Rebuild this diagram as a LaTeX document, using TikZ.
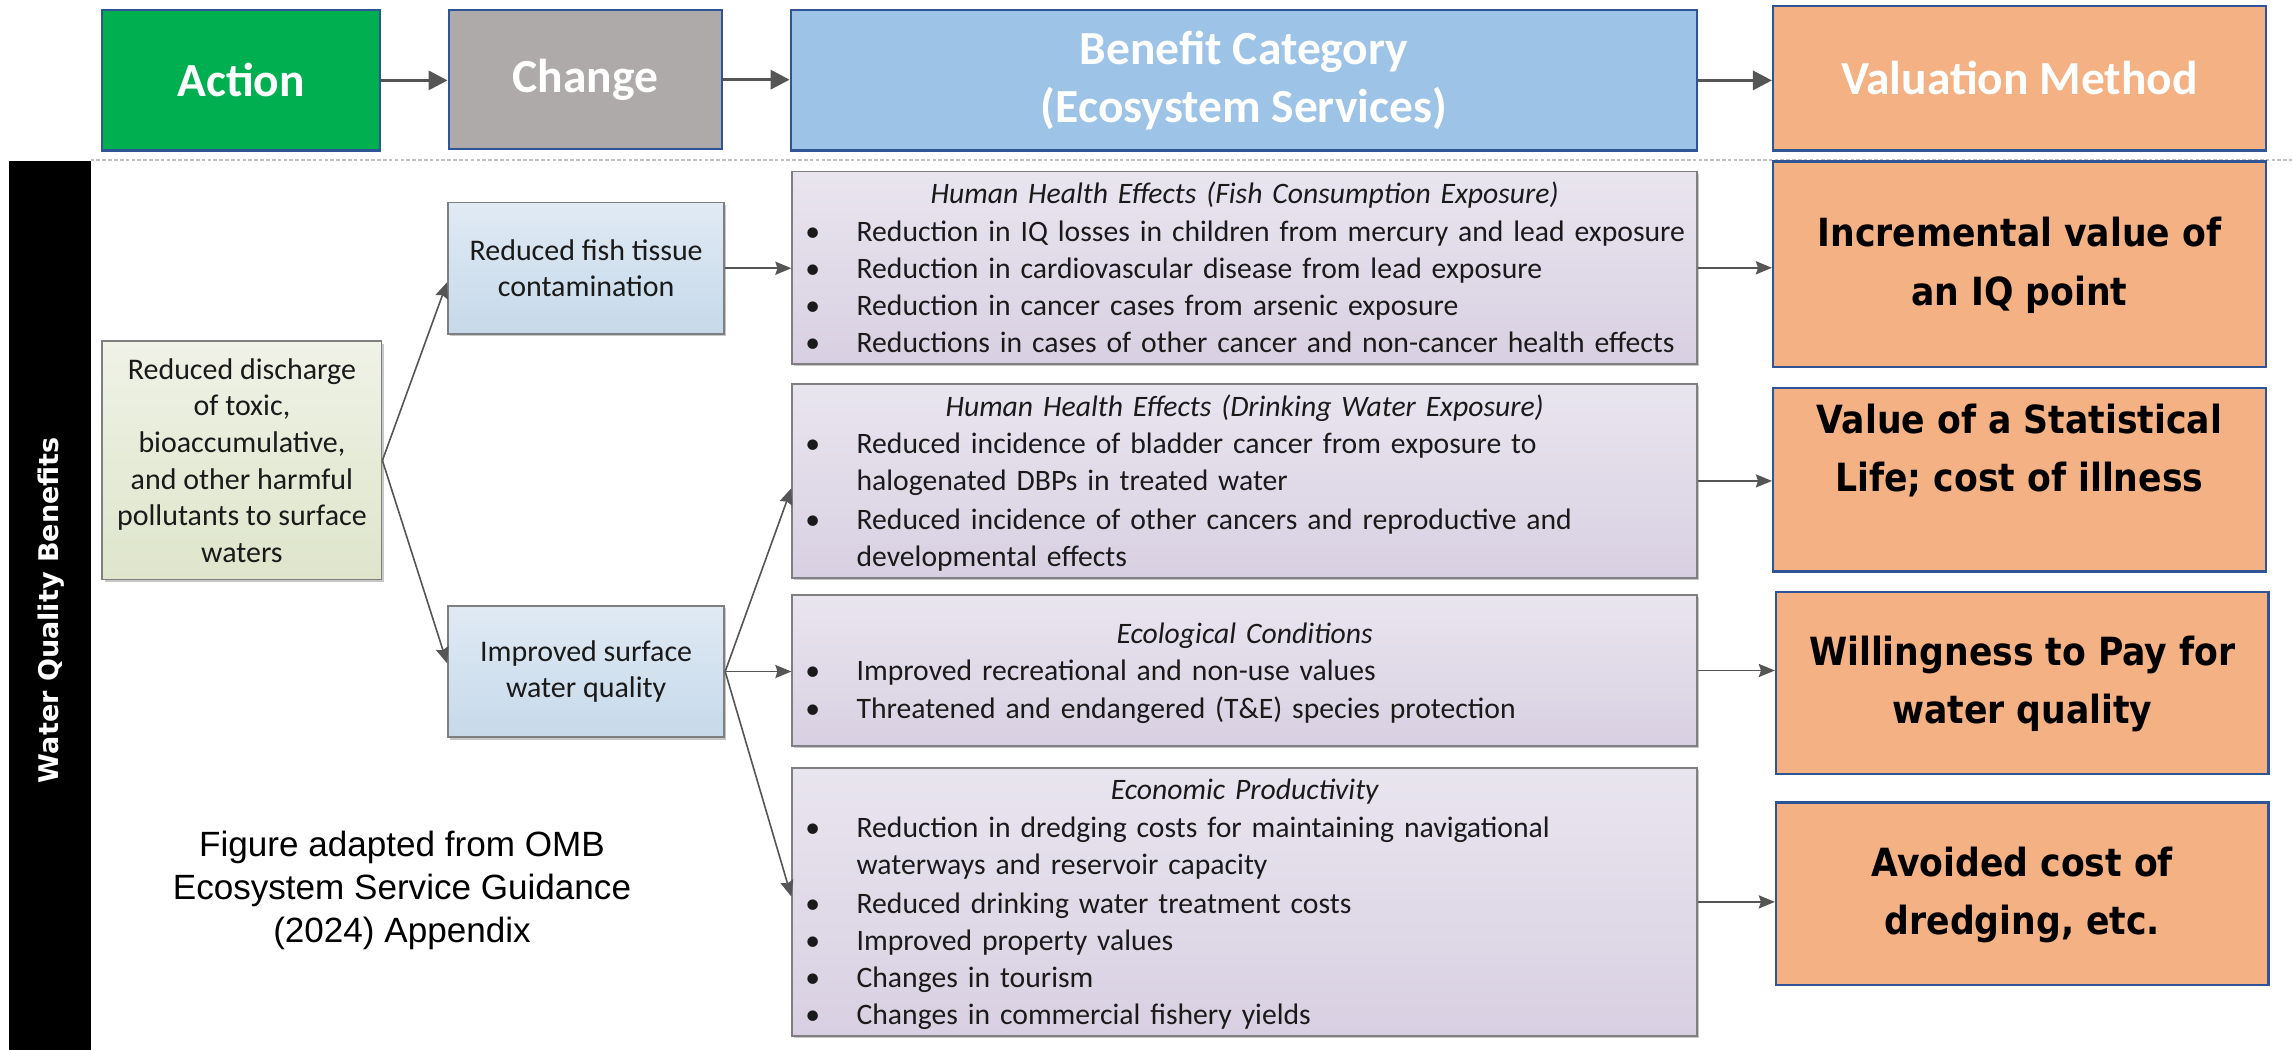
\documentclass[tikz,border=0pt]{standalone}
\usepackage{fontspec}
\setmainfont{Carlito}
\newfontfamily\vfont{DejaVu Sans}
\newfontfamily\afont{Liberation Sans}
\usetikzlibrary{arrows.meta,shadows,calc}
\usepackage{graphicx}

\definecolor{actgreen}{HTML}{00B050}
\definecolor{chggray}{HTML}{AEAAAA}
\definecolor{benblue}{HTML}{9DC3E6}
\definecolor{valorange}{HTML}{F4B183}
\definecolor{hdrborder}{HTML}{2F5597}
\definecolor{boxborder}{HTML}{7F7F7F}
\definecolor{arrowgray}{HTML}{555555}
\definecolor{dashgray}{HTML}{C0C0C0}
\definecolor{chgtop}{HTML}{E0EAF4}
\definecolor{chgbot}{HTML}{C6D9EA}
\definecolor{srctop}{HTML}{EFF2E6}
\definecolor{srcbot}{HTML}{DEE5CB}
\definecolor{bentop}{HTML}{E9E5EF}
\definecolor{benbot}{HTML}{D8D0E2}
\definecolor{bodytext}{HTML}{1A1A1A}

\newcommand{\btitle}[1]{{\centering\itshape\rule{0pt}{22pt}#1\par}}
\newcommand{\bitem}[1]{{\noindent\makebox[35pt][l]{\textbullet}\begin{tabular}[t]{@{}l@{}}#1\end{tabular}\par}}
\newcommand{\vst}[1]{\scalebox{1}[1.12]{\begin{tabular}{@{}c@{}}#1\end{tabular}}}

\begin{document}
\begin{tikzpicture}[x=1pt,y=-1pt,
  hdr/.style={draw=hdrborder, line width=1.6pt, text=white, inner sep=0pt,
    font=\fontsize{32.5}{39.5}\selectfont\bfseries, align=center},
  softshadow/.style={drop shadow={shadow xshift=1.5pt, shadow yshift=-1.5pt, opacity=0.22, fill=black}},
  chgbox/.style={draw=boxborder, line width=1.2pt, top color=chgtop, bottom color=chgbot,
    inner sep=0pt, align=center, text=bodytext, softshadow,
    font=\fontsize{20.5}{25.2}\selectfont},
  srcbox/.style={draw=boxborder, line width=1.2pt, top color=srctop, bottom color=srcbot,
    inner sep=0pt, align=center, text=bodytext, softshadow,
    font=\fontsize{20.5}{25.1}\selectfont},
  benbox/.style={draw=boxborder, line width=1.2pt, top color=bentop, bottom color=benbot,
    inner xsep=9pt, inner ysep=0pt, text width=601pt, minimum width=619pt, text=bodytext, softshadow,
    font=\fontsize{20.3}{25.5}\selectfont, execute at begin node={\setlength{\parskip}{0pt}}},
  valbox/.style={draw=hdrborder, line width=1.6pt, fill=valorange, inner sep=0pt,
    minimum width=337pt, align=center, text=black,
    font=\vfont\bfseries\fontsize{23.7}{35.7}\selectfont},
  hdrarrow/.style={draw=arrowgray, line width=2.2pt, -{Triangle[length=13pt,width=13pt]}},
  conn/.style={draw=arrowgray, line width=1.1pt, -{Stealth[length=11pt,width=9pt,inset=1.5pt]}},
  dashline/.style={draw=dashgray, line width=1pt, dash pattern=on 2.5pt off 1.5pt}
]
\useasboundingbox (0,0) rectangle (1568,718);
\fill[white] (0,0) rectangle (1568,718);

% header row
\node[hdr, fill=actgreen, minimum width=190pt, minimum height=96pt] (action) at (165,55) {Action};
\node[hdr, fill=chggray, minimum width=187pt, minimum height=95pt] (change) at (400.5,54.5) {Change};
\node[hdr, fill=benblue, minimum width=620pt, minimum height=96pt] (bencat) at (851,55) {Benefit Category\\(Ecosystem Services)};
\node[hdr, fill=valorange, minimum width=337pt, minimum height=99pt] (valm) at (1381.5,53.5) {Valuation Method};

\draw[hdrarrow] (action.east) -- (action.east -| change.west);
\draw[hdrarrow] (change.east) -- (change.east -| bencat.west);
\draw[hdrarrow] (bencat.east) -- (bencat.east -| valm.west);

% dashed separator
\coordinate (dl) at (62,109.5);
\coordinate (dr) at (1568,109.5);
\draw[dashline] (dl) -- (dr);

% side bar
\node[fill=black, minimum width=56pt, minimum height=608pt, inner sep=0pt] (bar) at (34,414) {};
\node[rotate=90, text=white, inner sep=0pt, font=\vfont\bfseries\fontsize{18.5}{22}\selectfont] (wqb) at (35,417.4) {Water Quality Benefits};

% action / change column
\node[srcbox, minimum width=191pt, minimum height=163pt] (src) at (165.5,315)
  {Reduced discharge\\of toxic,\\bioaccumulative,\\and other harmful\\pollutants to surface\\waters};
\node[chgbox, minimum width=189pt, minimum height=90pt] (fish) at (401,183.5)
  {Reduced fish tissue\\contamination};
\node[chgbox, minimum width=189pt, minimum height=90pt] (impr) at (401,459.4)
  {Improved surface\\water quality};

% benefit boxes
\node[benbox, minimum height=128.4pt] (b1) at (851.5,183.2) {%
\btitle{Human Health Effects (Fish Consumption Exposure)}
\bitem{Reduction in IQ losses in children from mercury and lead exposure}
\bitem{Reduction in cardiovascular disease from lead exposure}
\bitem{Reduction in cancer cases from arsenic exposure}
\bitem{Reductions in cases of other cancer and non-cancer health effects}};

\node[benbox, minimum height=129pt] (b2) at (851.5,329) {%
\btitle{Human Health Effects (Drinking Water Exposure)}
\bitem{Reduced incidence of bladder cancer from exposure to\\halogenated DBPs in treated water}
\bitem{Reduced incidence of other cancers and reproductive and\\developmental effects}};

\node[benbox, minimum height=103.4pt] (b3) at (851.5,458.7) {%
\btitle{Ecological Conditions}
\bitem{Improved recreational and non-use values}
\bitem{Threatened and endangered (T\&E) species protection}};

\node[benbox, minimum height=179pt] (b4) at (851.5,617) {%
\btitle{Economic Productivity}
\bitem{Reduction in dredging costs for maintaining navigational\\waterways and reservoir capacity}
\bitem{Reduced drinking water treatment costs}
\bitem{Improved property values}
\bitem{Changes in tourism}
\bitem{Changes in commercial fishery yields}};

% valuation boxes
\node[valbox, minimum height=140.5pt] (v1) at (1381.5,180.75) {\vst{Incremental value of\\an IQ point}};
\node[valbox, minimum height=125.4pt] (v2) at (1381.5,328.3) {\vst{Value of a Statistical\\Life; cost of illness\\\strut}};
\node[valbox, minimum height=124.6pt] (v3) at (1383.5,467.3) {\vst{Willingness to Pay for\\water quality}};
\node[valbox, minimum height=125pt] (v4) at (1383.5,611.5) {\vst{Avoided cost of\\dredging, etc.}};

% connectors
\draw[conn] (src.east) -- ([yshift=-9.5pt]fish.west);
\draw[conn] (src.east) -- ([yshift=5.6pt]impr.west);
\draw[conn] (fish.east) -- (fish.east -| b1.west);
\draw[conn] (impr.east) -- ([yshift=-5pt]b2.west);
\draw[conn] (impr.east) -- (impr.east -| b3.west);
\draw[conn] (impr.east) -- ([yshift=3.6pt]b4.west);
\draw[conn] (b1.east) -- (b1.east -| v1.west);
\draw[conn] (b2.east) -- (b2.east -| v2.west);
\draw[conn] (b3.east) -- (b3.east -| v3.west);
\draw[conn] (b4.east) -- (b4.east -| v4.west);

% source note
\node[font=\afont\fontsize{24}{29.5}\selectfont, align=center, inner sep=0pt] (note) at (275,609)
  {Figure adapted from OMB\\Ecosystem Service Guidance\\(2024) Appendix};
\end{tikzpicture}
\end{document}
